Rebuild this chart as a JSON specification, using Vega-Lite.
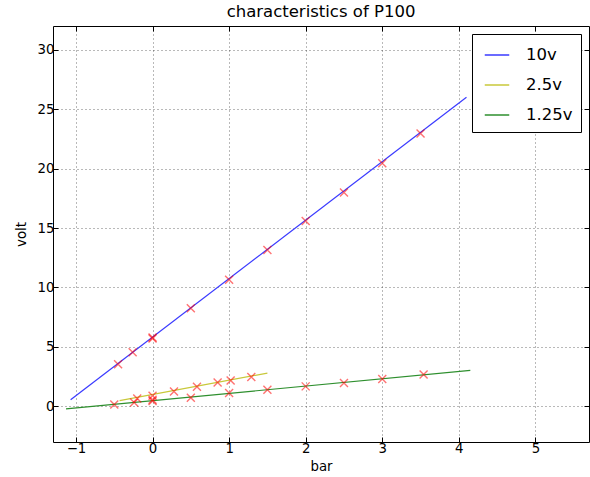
{
  "$schema": "https://vega.github.io/schema/vega-lite/v6.json",
  "width": 536,
  "height": 416,
  "autosize": {"type": "none"},
  "padding": {"left": 53, "top": 26, "right": 1, "bottom": 35},
  "background": "white",
  "title": {"text": "characteristics of P100", "fontSize": 16.5, "font": "DejaVu Sans", "fontWeight": "normal", "color": "#000", "offset": 5},
  "config": {
    "font": "DejaVu Sans",
    "view": {"stroke": "#000", "strokeWidth": 1},
    "axis": {
      "labelFont": "DejaVu Sans",
      "labelFontSize": 13.3,
      "labelColor": "#000",
      "titleFont": "DejaVu Sans",
      "titleFontSize": 13.3,
      "titleFontWeight": "normal",
      "titleColor": "#000",
      "domain": false,
      "grid": true,
      "gridColor": "#000",
      "gridOpacity": 0.55,
      "gridDash": [1, 3],
      "gridWidth": 1,
      "tickColor": "#000",
      "tickSize": -5,
      "labelPadding": 4
    },
    "legend": {"labelFont": "DejaVu Sans"}
  },
  "datasets": {
    "lines": [
      {"series": "10v", "x": -1.07, "y": 0.56},
      {"series": "10v", "x": 4.1, "y": 26.0},
      {"series": "2.5v", "x": -0.43, "y": 0.48},
      {"series": "2.5v", "x": 1.5, "y": 2.8},
      {"series": "1.25v", "x": -1.13, "y": -0.22},
      {"series": "1.25v", "x": 4.15, "y": 3.03}
    ],
    "points": [
      {"series": "10v", "x": -0.45, "y": 3.55},
      {"series": "10v", "x": -0.26, "y": 4.55},
      {"series": "10v", "x": 0, "y": 5.7},
      {"series": "10v", "x": 0, "y": 5.8},
      {"series": "10v", "x": 0.5, "y": 8.25},
      {"series": "10v", "x": 1, "y": 10.65},
      {"series": "10v", "x": 1.5, "y": 13.15},
      {"series": "10v", "x": 2, "y": 15.6},
      {"series": "10v", "x": 2.5, "y": 18.0},
      {"series": "10v", "x": 3, "y": 20.45},
      {"series": "10v", "x": 3.5, "y": 22.95},
      {"series": "2.5v", "x": -0.2, "y": 0.65},
      {"series": "2.5v", "x": 0, "y": 0.9},
      {"series": "2.5v", "x": 0.28, "y": 1.25},
      {"series": "2.5v", "x": 0.58, "y": 1.65},
      {"series": "2.5v", "x": 0.85, "y": 2.0},
      {"series": "2.5v", "x": 1.02, "y": 2.18},
      {"series": "2.5v", "x": 1.29, "y": 2.47},
      {"series": "1.25v", "x": -0.5, "y": 0.15},
      {"series": "1.25v", "x": -0.24, "y": 0.33},
      {"series": "1.25v", "x": 0, "y": 0.45},
      {"series": "1.25v", "x": 0, "y": 0.55},
      {"series": "1.25v", "x": 0.5, "y": 0.73},
      {"series": "1.25v", "x": 1, "y": 1.12},
      {"series": "1.25v", "x": 1.5, "y": 1.4},
      {"series": "1.25v", "x": 2, "y": 1.68},
      {"series": "1.25v", "x": 2.5, "y": 1.97},
      {"series": "1.25v", "x": 3, "y": 2.3},
      {"series": "1.25v", "x": 3.54, "y": 2.67}
    ]
  },
  "resolve": {"axis": {"x": "independent", "y": "independent"}},
  "layer": [
    {
      "data": {"name": "lines"},
      "mark": {"type": "line", "strokeWidth": 1.2, "clip": true},
      "encoding": {
        "x": {
          "field": "x",
          "type": "quantitative",
          "scale": {"domain": [-1.3, 5.7], "nice": false, "zero": false},
          "axis": {"values": [-1, 0, 1, 2, 3, 4, 5], "title": "bar", "titlePadding": 5}
        },
        "y": {
          "field": "y",
          "type": "quantitative",
          "scale": {"domain": [-3, 32], "nice": false, "zero": false},
          "axis": {"values": [0, 5, 10, 15, 20, 25, 30], "title": "volt", "titlePadding": 9}
        },
        "color": {
          "field": "series",
          "type": "nominal",
          "sort": null,
          "scale": {"domain": ["10v", "2.5v", "1.25v"], "range": ["#3a3aff", "#c8c83a", "#2e8f2e"]},
          "legend": {
            "title": null,
            "orient": "top-right",
            "offset": 8,
            "fillColor": "white",
            "strokeColor": "#000",
            "padding": 8,
            "symbolType": "stroke",
            "symbolSize": 600,
            "symbolStrokeWidth": 1.5,
            "symbolOffset": 4,
            "labelFontSize": 16.5,
            "labelColor": "#000",
            "labelOffset": 16,
            "rowPadding": 8
          }
        }
      }
    },
    {
      "data": {"name": "points"},
      "mark": {"type": "point", "shape": "M-1,-1L1,1M-1,1L1,-1", "filled": false, "stroke": "#ff0000", "size": 64, "strokeWidth": 1.4, "opacity": 0.55},
      "encoding": {
        "x": {"field": "x", "type": "quantitative", "axis": null},
        "y": {"field": "y", "type": "quantitative", "axis": null}
      }
    },
    {
      "data": {"name": "points"},
      "mark": {"type": "point", "opacity": 0},
      "encoding": {
        "x": {"field": "x", "type": "quantitative", "axis": {"orient": "top", "values": [-1, 0, 1, 2, 3, 4, 5], "labels": false, "grid": false, "title": null}},
        "y": {"field": "y", "type": "quantitative", "axis": {"orient": "right", "values": [0, 5, 10, 15, 20, 25, 30], "labels": false, "grid": false, "title": null}}
      }
    }
  ]
}
